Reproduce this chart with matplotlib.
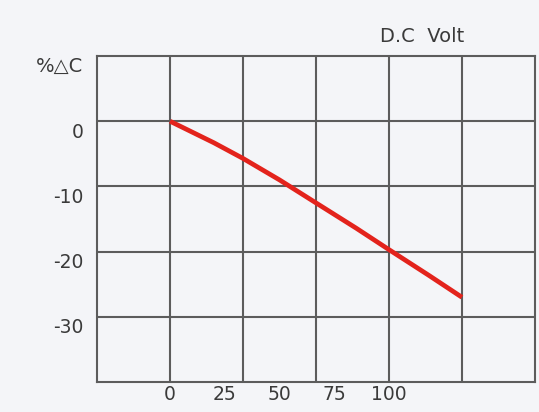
import matplotlib
matplotlib.use('Agg')
import matplotlib.pyplot as plt
import matplotlib.transforms as mtransforms
import numpy as np

plt.rcParams['axes.unicode_minus'] = False

# values
volt = [0, 20, 33.3, 50, 67, 85, 100, 118, 133.3]
cap_change = [0, -3.3, -5.7, -9.0, -12.6, -16.4, -19.7, -23.6, -27.0]

x_labels = [0, 25, 50, 75, 100]
y_labels = [0, -10, -20, -30]

bg = '#f4f5f8'
grid_col = '#5c5c5c'
text_col = '#3a3a3a'

fig = plt.figure(figsize=(5.39, 4.12), dpi=100, facecolor=bg)
ax = fig.add_axes([0.180, 0.0728, 0.8126, 0.7912], facecolor=bg)

ax.plot(volt, cap_change, color='#e3231c', linewidth=3.4, solid_capstyle='butt',
        solid_joinstyle='round', zorder=3)

ax.set_xlim(-100 / 3, 500 / 3)
ax.set_ylim(-40, 10)

# vertical grid is not on the labelled values
for gx in np.arange(0, 160, 100 / 3):
    ax.axvline(gx, color=grid_col, linewidth=1.5, zorder=1)
ax.set_xticks(x_labels)
ax.set_yticks(y_labels)
ax.grid(which='major', axis='y', color=grid_col, linewidth=1.5)
ax.tick_params(which='both', length=0, labelsize=13.5, labelcolor=text_col)
ax.tick_params(axis='x', pad=2)
ax.tick_params(axis='y', pad=10)

# y labels sit a bit under their lines
offset = mtransforms.ScaledTranslation(0, -9 / 100, fig.dpi_scale_trans)
for lab in ax.get_yticklabels():
    lab.set_transform(lab.get_transform() + offset)

for sp in ax.spines.values():
    sp.set_color(grid_col)
    sp.set_linewidth(1.5)

fig.text(83 / 539, 1 - 66 / 412, '%\u25b3C', ha='right', va='center', fontsize=14, color=text_col)
fig.text(422 / 539, 1 - 37 / 412, 'D.C  Volt', ha='center', va='center', fontsize=14, color=text_col)

plt.savefig('out.png', dpi=100, facecolor=bg)
